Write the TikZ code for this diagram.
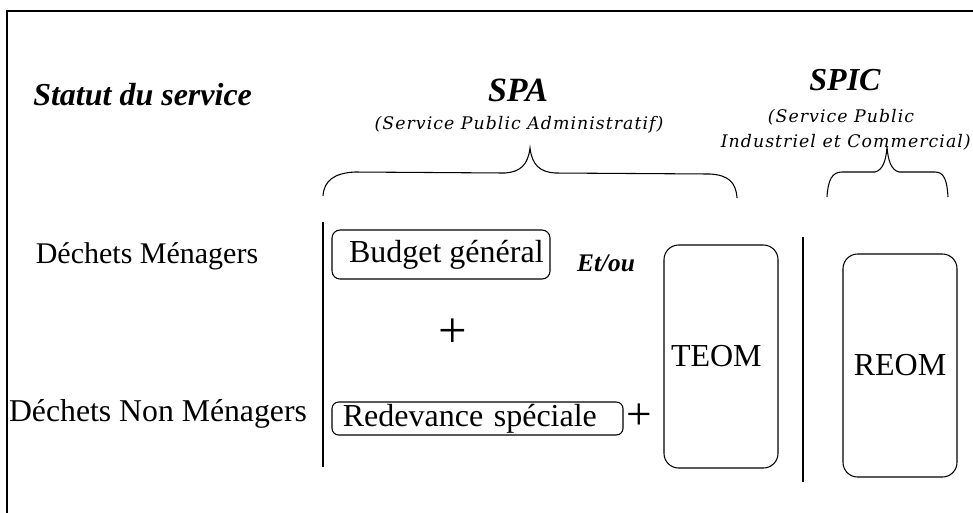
\documentclass[tikz,border=0pt]{standalone}
\usepackage{fontspec}
\setmainfont{Liberation Serif}
\newfontfamily\paren[LetterSpace=6]{DejaVu Serif}
\begin{document}
\begin{tikzpicture}[x=0.75pt,y=-0.75pt,
  box/.style={draw,rounded corners=6pt,line width=0.8pt,inner sep=0pt},
  lbl/.style={inner sep=0pt,font=\fontsize{24pt}{28pt}\selectfont},
  head/.style={inner sep=0pt,font=\fontsize{24pt}{28pt}\selectfont\bfseries\itshape},
  sub/.style={inner sep=0pt,font=\fontsize{13pt}{15pt}\paren\itshape},
  plus/.style={inner sep=0pt,font=\fontsize{38pt}{40pt}\selectfont},
  rule/.style={line width=0.9pt},
  brace/.style={line width=0.8pt}]
\useasboundingbox (0,0) rectangle (973,512);
% frame
\draw[line width=1.6pt] (7,513) -- (7,11) -- (974,11);
% headings
\node[head,anchor=west] (statut) at (33,95) {Statut du service};
\node[head,font=\fontsize{25.5pt}{28pt}\selectfont\bfseries\itshape] (spa) at (518,90) {SPA};
\node[sub] (spasub) at (519,125) {(Service Public Administratif)};
\node[head] (spic) at (845,80) {SPIC};
\node[sub] (spicsub1) at (841,117) {(Service Public};
\node[sub,anchor=east] (spicsub2) at (971,142) {Industriel et Commercial)};
% braces
\draw[brace] (323,196) .. controls (324,180) and (335,173) .. (355,172) -- (505,173)
  .. controls (520,172) and (528,165) .. (530,148)
  .. controls (532,165) and (540,172) .. (555,173) -- (710,174)
  .. controls (728,175) and (736,182) .. (737,198);
\draw[brace] (827,197) .. controls (828,180) and (832,172) .. (842,172) -- (875,172)
  .. controls (883,170) and (886,160) .. (887,147)
  .. controls (888,160) and (891,170) .. (899,172) -- (935,172)
  .. controls (944,172) and (947,180) .. (948,197);
% row labels
\node[lbl,font=\fontsize{22.5pt}{26pt}\selectfont] (dm) at (147,256) {Déchets Ménagers};
\node[lbl,font=\fontsize{23.8pt}{27pt}\selectfont] (dnm) at (158,414) {Déchets Non Ménagers};
% separators
\coordinate (s1t) at (323,222); \coordinate (s1b) at (323,467);
\coordinate (s2t) at (803,237); \coordinate (s2b) at (803,482);
\draw[rule] (s1t) -- (s1b);
\draw[rule] (s2t) -- (s2b);
% boxes
\node[box,lbl,minimum width=163.5pt,minimum height=36.75pt] (budget) at (441,254.5) {\hspace*{8pt}Budget général};
\node[box,lbl,rounded corners=5pt,minimum width=218.25pt,minimum height=24.75pt,text width=202pt,align=left] (redev) at (477.5,418.5) {\hspace*{0pt}Redevance spéciale};
\node[box,lbl,rounded corners=11pt,minimum width=85.5pt,minimum height=167.25pt] (teom) at (721,356.5) {\hspace*{-7pt}TEOM};
\node[box,lbl,rounded corners=11pt,minimum width=85.5pt,minimum height=167.25pt] (reom) at (900,365.5) {REOM};
% operators
\node[inner sep=0pt,font=\fontsize{19pt}{22pt}\selectfont\bfseries\itshape] (etou) at (606,263) {Et/ou};
\node[plus] (plus1) at (453,333) {+};
\node[plus,font=\fontsize{34pt}{36pt}\selectfont] (plus2) at (639,417) {+};
\end{tikzpicture}
\end{document}
